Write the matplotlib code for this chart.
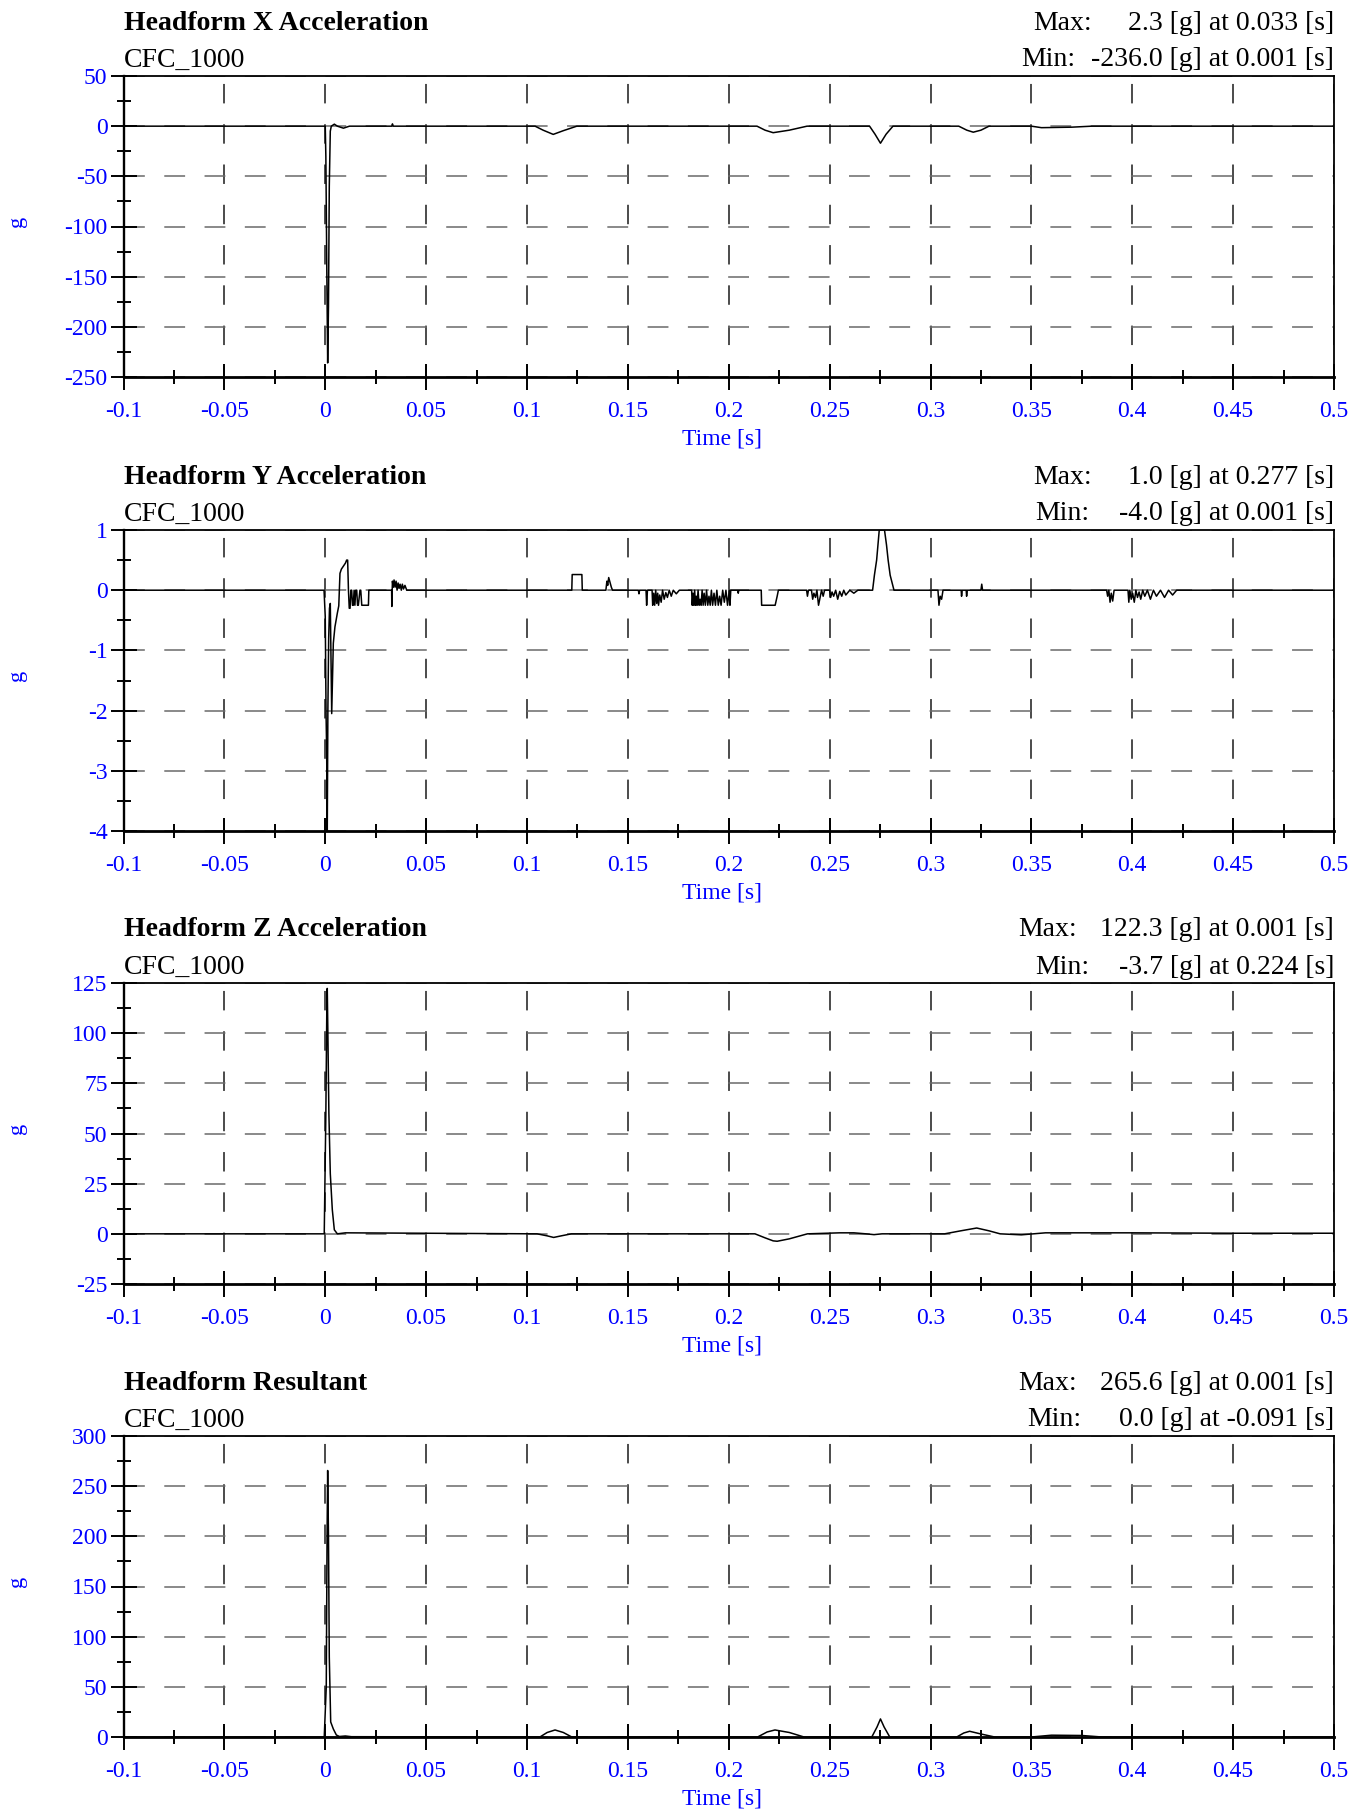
import matplotlib
matplotlib.use("Agg")
import matplotlib.pyplot as plt
from matplotlib.ticker import MultipleLocator

plt.rcParams['font.family'] = ['Liberation Serif', 'DejaVu Serif']
plt.rcParams['axes.unicode_minus'] = False
plt.rcParams['lines.scale_dashes'] = False

# ---- data ----
x_time = [-0.1, 0.0, 0.0003, 0.0008, 0.0012, 0.0016, 0.0020, 0.0025, 0.0030,
          0.0045, 0.0060, 0.0090, 0.0120, 0.0330, 0.0333, 0.0337, 0.104,
          0.108, 0.113, 0.118, 0.1247, 0.214, 0.218, 0.222, 0.230, 0.2388,
          0.2698, 0.2725, 0.2752, 0.278, 0.2814, 0.314, 0.318, 0.3212, 0.325,
          0.329, 0.350, 0.355, 0.370, 0.380, 0.5]
x_accel = [0.0, 0.0, -30.0, -150.0, -236.0, -180.0, -60.0, -5.0, 0.0,
           2.0, 0.0, -2.0, 0.0, 0.0, 2.3, 0.0, 0.0,
           -4.0, -8.2, -4.5, 0.0, 0.0, -4.0, -6.5, -4.0, 0.0,
           0.0, -8.0, -17.0, -8.0, 0.0, 0.0, -4.0, -6.0, -4.0,
           0.0, 0.0, -1.5, -1.0, 0.0, 0.0]

y_time = [-0.1, -0.0006, 0.0000, 0.0004, 0.0007, 0.0010, 0.0013, 0.0017,
          0.0021, 0.0025, 0.0032, 0.0040, 0.0048, 0.0060, 0.0067, 0.0073,
          0.0080, 0.0090, 0.0100, 0.0106, 0.0111, 0.0115, 0.0119, 0.0123,
          0.0127, 0.0131, 0.0135, 0.0139, 0.0143, 0.0147, 0.0151, 0.0156,
          0.0160, 0.0164, 0.0172, 0.0176, 0.0181, 0.0214, 0.0216,
          0.0329, 0.0330, 0.0333, 0.0337, 0.0341, 0.0346, 0.0351, 0.0356,
          0.0361, 0.0366, 0.0371, 0.0377, 0.0382, 0.0388, 0.0395, 0.0404,
          0.1222, 0.1224, 0.1272, 0.1274,
          0.1391, 0.1396, 0.1400, 0.1405, 0.1412, 0.1418, 0.1424,
          0.1552, 0.1555, 0.1558, 0.1590, 0.1593, 0.1597, 0.1620, 0.1623,
          0.1628, 0.1633, 0.1638, 0.1643, 0.1648, 0.1652, 0.1658, 0.1665,
          0.1672, 0.1680, 0.1688, 0.1696, 0.1705, 0.1715, 0.1725, 0.1740,
          0.1755, 0.1767,
          0.1816, 0.1819, 0.1823, 0.1827, 0.1831, 0.1835, 0.1839, 0.1843,
          0.1848, 0.1853, 0.1858, 0.1863, 0.1868, 0.1873, 0.1878, 0.1884,
          0.1890, 0.1896, 0.1902, 0.1908, 0.1914, 0.1920, 0.1927, 0.1934,
          0.1941, 0.1948, 0.1955, 0.1962, 0.1970, 0.1978, 0.1986, 0.1994,
          0.2003, 0.2006, 0.2010, 0.2015, 0.2045, 0.2047, 0.2050,
          0.2161, 0.2163, 0.2200, 0.2230, 0.2240, 0.2246,
          0.2386, 0.2390, 0.2395, 0.2410, 0.2416, 0.2422, 0.2430, 0.2437,
          0.2445, 0.2460, 0.2468, 0.2475, 0.2500, 0.2505, 0.2512, 0.2520,
          0.2530, 0.2540, 0.2550, 0.2560, 0.2570, 0.2580, 0.2600, 0.2620,
          0.2640, 0.2651,
          0.2713, 0.2722, 0.2733, 0.2746, 0.2760, 0.2772, 0.2782, 0.2790,
          0.2800, 0.2810, 0.2819,
          0.3037, 0.3042, 0.3048, 0.3055, 0.3062, 0.3152, 0.3154, 0.3157,
          0.3177, 0.3179, 0.3182, 0.3250, 0.3254, 0.3258,
          0.3873, 0.3878, 0.3884, 0.3890, 0.3896, 0.3903, 0.3910, 0.3915,
          0.3979, 0.3983, 0.3988, 0.3995, 0.4002, 0.4010, 0.4018, 0.4026,
          0.4034, 0.4042, 0.4052, 0.4062, 0.4075, 0.4090, 0.4105, 0.4120,
          0.4140, 0.4160, 0.4180, 0.4200, 0.4220, 0.5]
y_accel = [0.0, 0.0, -0.44, -2.05, -2.68, -4.0, -2.0, -0.8,
           -0.3, -0.22, -2.05, -0.88, -0.61, -0.38, -0.26, 0.28,
           0.35, 0.40, 0.45, 0.50, 0.50, 0.0, -0.30, -0.30,
           0.0, 0.0, -0.25, -0.25, 0.0, -0.25, 0.0, 0.0,
           -0.25, -0.25, 0.0, 0.0, -0.25, -0.25, 0.0,
           0.0, -0.27, 0.15, 0.05, 0.17, 0.05, 0.15, 0.0,
           0.12, 0.03, 0.10, 0.0, 0.10, 0.02, 0.08, 0.0,
           0.0, 0.26, 0.26, 0.0,
           0.0, 0.15, 0.08, 0.21, 0.12, 0.05, 0.0,
           0.0, -0.06, 0.0, 0.0, -0.25, 0.0, 0.0, -0.25,
           -0.05, -0.25, 0.0, -0.22, -0.05, -0.25, -0.08, -0.2,
           0.0, -0.15, -0.04, -0.12, 0.0, -0.1, 0.0, -0.06,
           0.0, 0.0,
           0.0, -0.25, -0.05, -0.25, 0.0, -0.25, -0.1, -0.25,
           0.0, -0.25, -0.15, -0.25, 0.0, -0.25, -0.05, -0.25,
           0.0, -0.25, -0.1, -0.25, 0.0, -0.25, -0.05, -0.25,
           0.0, -0.25, -0.1, -0.25, 0.0, -0.2, 0.0, -0.25,
           0.0, -0.25, 0.0, 0.0, 0.0, -0.05, 0.0,
           0.0, -0.25, -0.25, -0.25, -0.1, 0.0,
           0.0, -0.1, 0.0, 0.0, -0.15, -0.05, -0.12, 0.0,
           -0.25, 0.0, -0.1, 0.0, 0.0, -0.12, -0.03, -0.1,
           0.0, -0.15, -0.02, -0.1, 0.0, -0.08, 0.0, -0.05,
           0.0, 0.0,
           0.0, 0.25, 0.5, 1.0, 1.0, 1.0, 0.75, 0.5,
           0.25, 0.12, 0.0,
           0.0, -0.25, -0.1, -0.15, 0.0, 0.0, -0.1, 0.0,
           0.0, -0.1, 0.0, 0.0, 0.1, 0.0,
           0.0, -0.1, 0.0, -0.2, -0.05, -0.18, 0.0, 0.0,
           0.0, -0.2, 0.0, -0.15, -0.05, -0.2, 0.0, -0.12,
           -0.03, -0.15, 0.0, -0.1, 0.0, -0.15, 0.0, -0.1,
           0.0, -0.12, 0.0, -0.08, 0.0, 0.0]

z_time = [-0.1, -0.0005, 0.0003, 0.0008, 0.0010, 0.0013, 0.0018, 0.0025,
          0.0035, 0.0045, 0.0060, 0.0100, 0.105, 0.110, 0.1132, 0.117,
          0.122, 0.213, 0.218, 0.222, 0.224, 0.230, 0.239, 0.255, 0.262,
          0.268, 0.272, 0.276, 0.307, 0.315, 0.3229, 0.329, 0.3345, 0.345,
          0.357, 0.400, 0.450, 0.5]
z_accel = [0.0, 0.0, 60.0, 115.0, 122.3, 100.0, 60.0, 30.0,
           12.0, 2.0, 0.0, 0.5, 0.0, -1.0, -1.8, -1.0,
           0.0, 0.0, -2.0, -3.5, -3.7, -2.5, 0.0, 0.5, 0.5,
           0.0, -0.4, 0.0, 0.0, 1.5, 2.9, 1.5, 0.0, -0.5,
           0.5, 0.5, 0.3, 0.3]

r_time = [-0.1, -0.0005, 0.0005, 0.0009, 0.0012, 0.0016, 0.0020, 0.0027,
          0.0040, 0.0055, 0.0070, 0.0100, 0.0130, 0.1064, 0.110, 0.1139,
          0.118, 0.1222, 0.2143, 0.219, 0.2229, 0.230, 0.2373, 0.2709,
          0.2735, 0.2752, 0.277, 0.2798, 0.313, 0.3165, 0.3194, 0.325,
          0.3318, 0.350, 0.360, 0.375, 0.385, 0.5]
r_accel = [0.0, 0.0, 50.0, 200.0, 265.6, 200.0, 80.0, 15.0,
           8.0, 2.0, 0.5, 1.0, 0.3, 0.0, 4.5, 7.0,
           4.5, 0.0, 0.0, 5.0, 7.0, 4.5, 0.0, 0.0,
           10.0, 18.0, 10.0, 0.0, 0.0, 4.0, 5.7, 3.0,
           0.0, 0.0, 1.8, 1.5, 0.0, 0.0]

panel_titles = ["Headform X Acceleration", "Headform Y Acceleration",
                "Headform Z Acceleration", "Headform Resultant"]
max_texts = ["2.3 [g] at 0.033 [s]", "1.0 [g] at 0.277 [s]",
             "122.3 [g] at 0.001 [s]", "265.6 [g] at 0.001 [s]"]
min_texts = ["-236.0 [g] at 0.001 [s]", "-4.0 [g] at 0.001 [s]",
             "-3.7 [g] at 0.224 [s]", "0.0 [g] at -0.091 [s]"]
x_ticks = [-0.1, -0.05, 0, 0.05, 0.1, 0.15, 0.2, 0.25, 0.3, 0.35, 0.4, 0.45, 0.5]
x_ticklabels = ["-0.1", "-0.05", "0", "0.05", "0.1", "0.15", "0.2", "0.25",
                "0.3", "0.35", "0.4", "0.45", "0.5"]
y_limits = [(-250, 50), (-4, 1), (-25, 125), (0, 300)]
y_steps = [50, 1, 25, 50]

series = [(x_time, x_accel), (y_time, y_accel), (z_time, z_accel), (r_time, r_accel)]

# ---- layout (pixels of the 1363x1809 picture) ----
W, H = 1363, 1809
ax_left, ax_right = 123.5, 1334
ax_tops = [76, 530, 983, 1436]
ax_h = 301
max_label_x = [1033, 1033, 1018, 1018]
min_label_x = [1021, 1035, 1035, 1027]


def fx(px):
    return px / W


def fy(px):
    return 1 - px / H


fig = plt.figure(figsize=(W / 100, H / 100), dpi=100)

for i in range(4):
    top = ax_tops[i]
    ax = fig.add_axes([fx(ax_left), fy(top + ax_h), fx(ax_right - ax_left), ax_h / H])
    t, v = series[i]
    ax.plot(t, v, color='black', lw=1.1, zorder=3)

    lo, hi = y_limits[i]
    step = y_steps[i]
    ax.set_xlim(-0.1, 0.5)
    ax.set_ylim(lo, hi)
    ax.set_xticks(x_ticks)
    ax.set_xticklabels(x_ticklabels)
    ax.xaxis.set_minor_locator(MultipleLocator(0.025))
    yt = []
    val = hi
    while val >= lo - 1e-9:
        yt.append(val)
        val -= step
    ax.set_yticks(yt)
    ax.set_yticklabels([f"{y:g}" for y in yt])
    ax.yaxis.set_minor_locator(MultipleLocator(step / 2))

    ax.tick_params(which='major', direction='inout', length=19, width=1.4,
                   labelsize=17, labelcolor='blue')
    ax.tick_params(which='minor', direction='inout', length=9.5, width=1.4)
    ax.tick_params(axis='x', which='major', pad=8)
    ax.tick_params(axis='y', which='major', pad=2)

    ax.grid(axis='y', which='major', color='#6a6a6a', lw=1.1, linestyle=(0, (15, 14)))
    ax.grid(axis='x', which='major', color='#1a1a1a', lw=1.1, linestyle=(6, (14, 15)))
    ax.set_axisbelow(True)

    ax.spines['bottom'].set_linewidth(2.0)
    ax.spines['left'].set_linewidth(1.7)
    ax.spines['top'].set_linewidth(1.3)
    ax.spines['right'].set_linewidth(1.3)

    fig.text(fx(ax_left), fy(top - 53), panel_titles[i], fontsize=20,
             fontweight='bold', ha='left', va='center')
    fig.text(fx(ax_left), fy(top - 16), "CFC_1000", fontsize=20,
             ha='left', va='center')
    fig.text(fx(max_label_x[i]), fy(top - 53), "Max:", fontsize=20,
             ha='left', va='center')
    fig.text(fx(ax_right), fy(top - 53), max_texts[i], fontsize=20,
             ha='right', va='center')
    fig.text(fx(min_label_x[i]), fy(top - 16), "Min:", fontsize=20,
             ha='left', va='center')
    fig.text(fx(ax_right), fy(top - 16), min_texts[i], fontsize=20,
             ha='right', va='center')

    fig.text(fx(722), fy(top + ax_h + 62), "Time [s]", fontsize=17,
             color='blue', ha='center', va='center')
    fig.text(fx(17), fy(top + ax_h / 2 - 5), "g", fontsize=16, color='blue',
             rotation=90, ha='center', va='center')

fig.savefig("out.png", dpi=100)
